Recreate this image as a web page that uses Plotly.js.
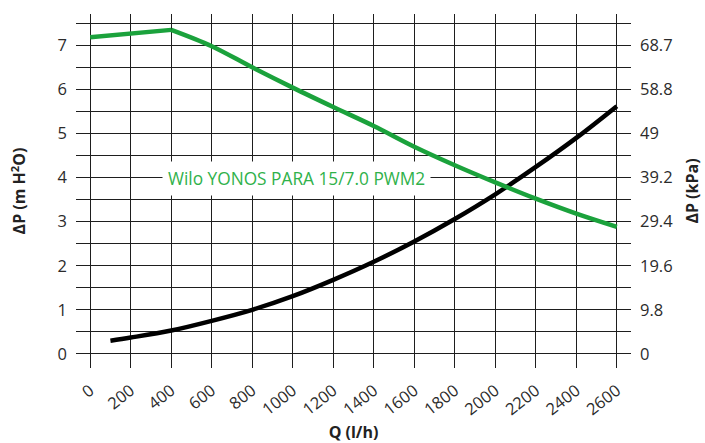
<!DOCTYPE html>
<html>
<head>
<meta charset="utf-8">
<script src="https://cdn.plot.ly/plotly-3.0.1.min.js"></script>
<style>html,body{margin:0;padding:0;background:#fff;}#chart{width:705px;height:443px;}</style>
</head>
<body>
<div id="chart"></div>
<script>
// Pump curve (Wilo YONOS PARA 15/7.0 PWM2): flat part, then falling part
var pumpQflat = [0, 200, 400];
var pumpHflat = [7.18, 7.27, 7.35];
var pumpQ = [400, 600, 800, 1000, 1200, 1400, 1600, 1800, 2000, 2200, 2400, 2600];
var pumpH = [7.35, 6.98, 6.50, 6.04, 5.60, 5.17, 4.70, 4.28, 3.89, 3.52, 3.18, 2.88];
// System curve
var sysQ = [100, 200, 400, 600, 800, 1000, 1200, 1400, 1600, 1800, 2000, 2200, 2400, 2600];
var sysH = [0.30, 0.37, 0.53, 0.75, 1.00, 1.31, 1.68, 2.09, 2.55, 3.06, 3.62, 4.24, 4.90, 5.62];
// Axis ticks
var yTicks = [0, 1, 2, 3, 4, 5, 6, 7];
var kPaLabels = ['0', '9.8', '19.6', '29.4', '39.2', '49', '58.8', '68.7'];
var pumpLabel = 'Wilo YONOS PARA 15/7.0 PWM2';

var font = 'Open Sans, Noto Sans, sans-serif';
var tickColor = '#2b2b2b';
var gridColor = '#1e1e1e';
var green = '#1ba23c';

var data = [
  {x: sysQ, y: sysH, mode: 'lines', line: {color: '#000', width: 4.5, shape: 'spline', smoothing: 1}, hoverinfo: 'skip', showlegend: false},
  {x: pumpQflat, y: pumpHflat, mode: 'lines', line: {color: green, width: 4.5}, hoverinfo: 'skip', showlegend: false},
  {x: pumpQ, y: pumpH, mode: 'lines', line: {color: green, width: 4.5, shape: 'spline', smoothing: 1}, hoverinfo: 'skip', showlegend: false},
  {x: [0], y: [0], yaxis: 'y2', mode: 'markers', marker: {opacity: 0}, hoverinfo: 'skip', showlegend: false}
];

var layout = {
  width: 705, height: 443,
  margin: {l: 76, r: 74, t: 14, b: 75},
  paper_bgcolor: '#fff', plot_bgcolor: '#fff',
  font: {family: font, color: tickColor, size: 16.5},
  showlegend: false,
  xaxis: {
    range: [-70, 2670], dtick: 200, tick0: 0, tickangle: -38,
    showgrid: true, gridcolor: gridColor, gridwidth: 1.2, zeroline: false,
    showline: false, ticks: '', ticklabelstandoff: 9,
    tickfont: {family: font, size: 16.5, color: tickColor},
    title: {text: '<b>Q (l/h)</b>', font: {family: font, size: 16, color: '#222'}, standoff: 7}
  },
  yaxis: {
    range: [-0.32, 7.71], tickvals: yTicks, ticktext: yTicks.map(String),
    showgrid: true, gridcolor: gridColor, gridwidth: 1.2, zeroline: false,
    minor: {dtick: 0.5, tick0: 0, showgrid: true, gridcolor: gridColor, gridwidth: 1.2},
    showline: false, ticks: '', ticklabelstandoff: 8,
    tickfont: {family: font, size: 16.5, color: tickColor},
    title: {text: '<b>ΔP (m H<sup>2</sup>O)</b>', font: {family: font, size: 16, color: '#222'}, standoff: 27}
  },
  yaxis2: {
    overlaying: 'y', side: 'right',
    range: [-0.32, 7.71], tickvals: yTicks, ticktext: kPaLabels,
    showgrid: false, zeroline: false, showline: false, ticks: '', ticklabelstandoff: 8,
    tickfont: {family: font, size: 16.5, color: tickColor},
    title: {text: '<b>ΔP (kPa)</b>', font: {family: font, size: 16, color: '#222'}, standoff: 14}
  },
  annotations: [{
    x: 1020, y: 3.97, xref: 'x', yref: 'y',
    text: pumpLabel, showarrow: false,
    font: {family: font, size: 17.3, color: '#2fb14a'},
    bgcolor: '#fff', borderpad: 5
  }]
};

Plotly.newPlot('chart', data, layout, {staticPlot: true, displayModeBar: false});
</script>
</body>
</html>
